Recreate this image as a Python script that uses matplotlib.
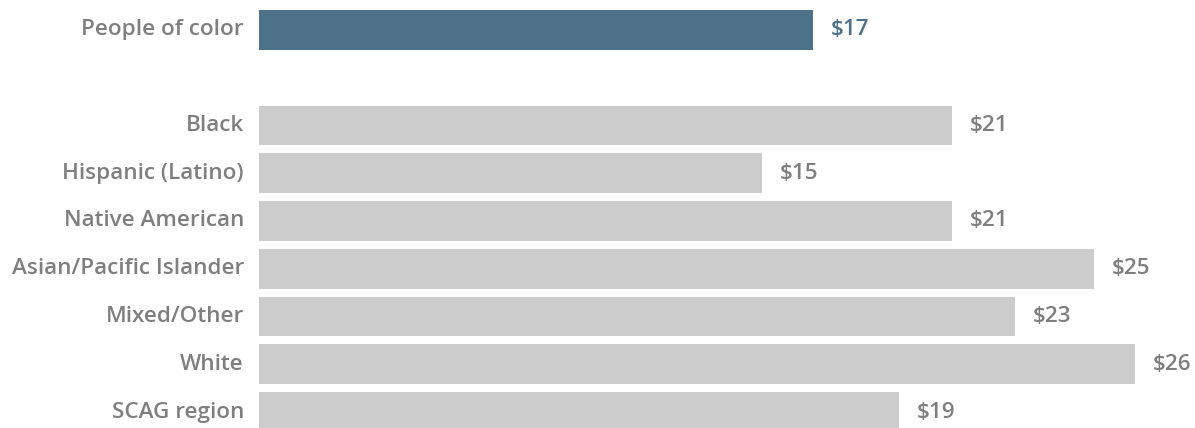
import matplotlib.pyplot as plt
import numpy as np

categories = [
    "People of color",
    "Black",
    "Hispanic (Latino)",
    "Native American",
    "Asian/Pacific Islander",
    "Mixed/Other",
    "White",
    "SCAG region",
]
values = [16.52, 20.67, 15.0, 20.67, 24.91, 22.55, 26.13, 19.09]
# row slots (leave one empty slot after the highlight row)
slots = [0, 2, 3, 4, 5, 6, 7, 8]

gray_bar = "#cccccc"
blue_bar = "#4d7189"
text_gray = "#7f7f7f"

plt.rcParams["font.family"] = ["Open Sans", "DejaVu Sans"]

fig = plt.figure(figsize=(11.95, 4.28), dpi=100)
ax = fig.add_axes([259 / 1195, 0, 1 - 259 / 1195, 1])

pos = np.array(slots, dtype=float)
colors = [blue_bar] + [gray_bar] * (len(values) - 1)
ax.barh(pos, values, height=0.835, color=colors, linewidth=0)

for i, (p, val) in enumerate(zip(pos, values)):
    c = blue_bar if i == 0 else text_gray
    ax.text(val + 0.54, p, f"${int(val + 0.5)}", va="center", ha="left",
            fontsize=16.2, fontweight="semibold", color=c)
    ax.text(-0.45, p, categories[i], va="center", ha="right",
            fontsize=16.2, fontweight="semibold", color=text_gray)

ax.set_xlim(0, 27.92)
ax.set_ylim(8.335, -0.628)
ax.axis("off")

fig.savefig("out.png", dpi=100)
